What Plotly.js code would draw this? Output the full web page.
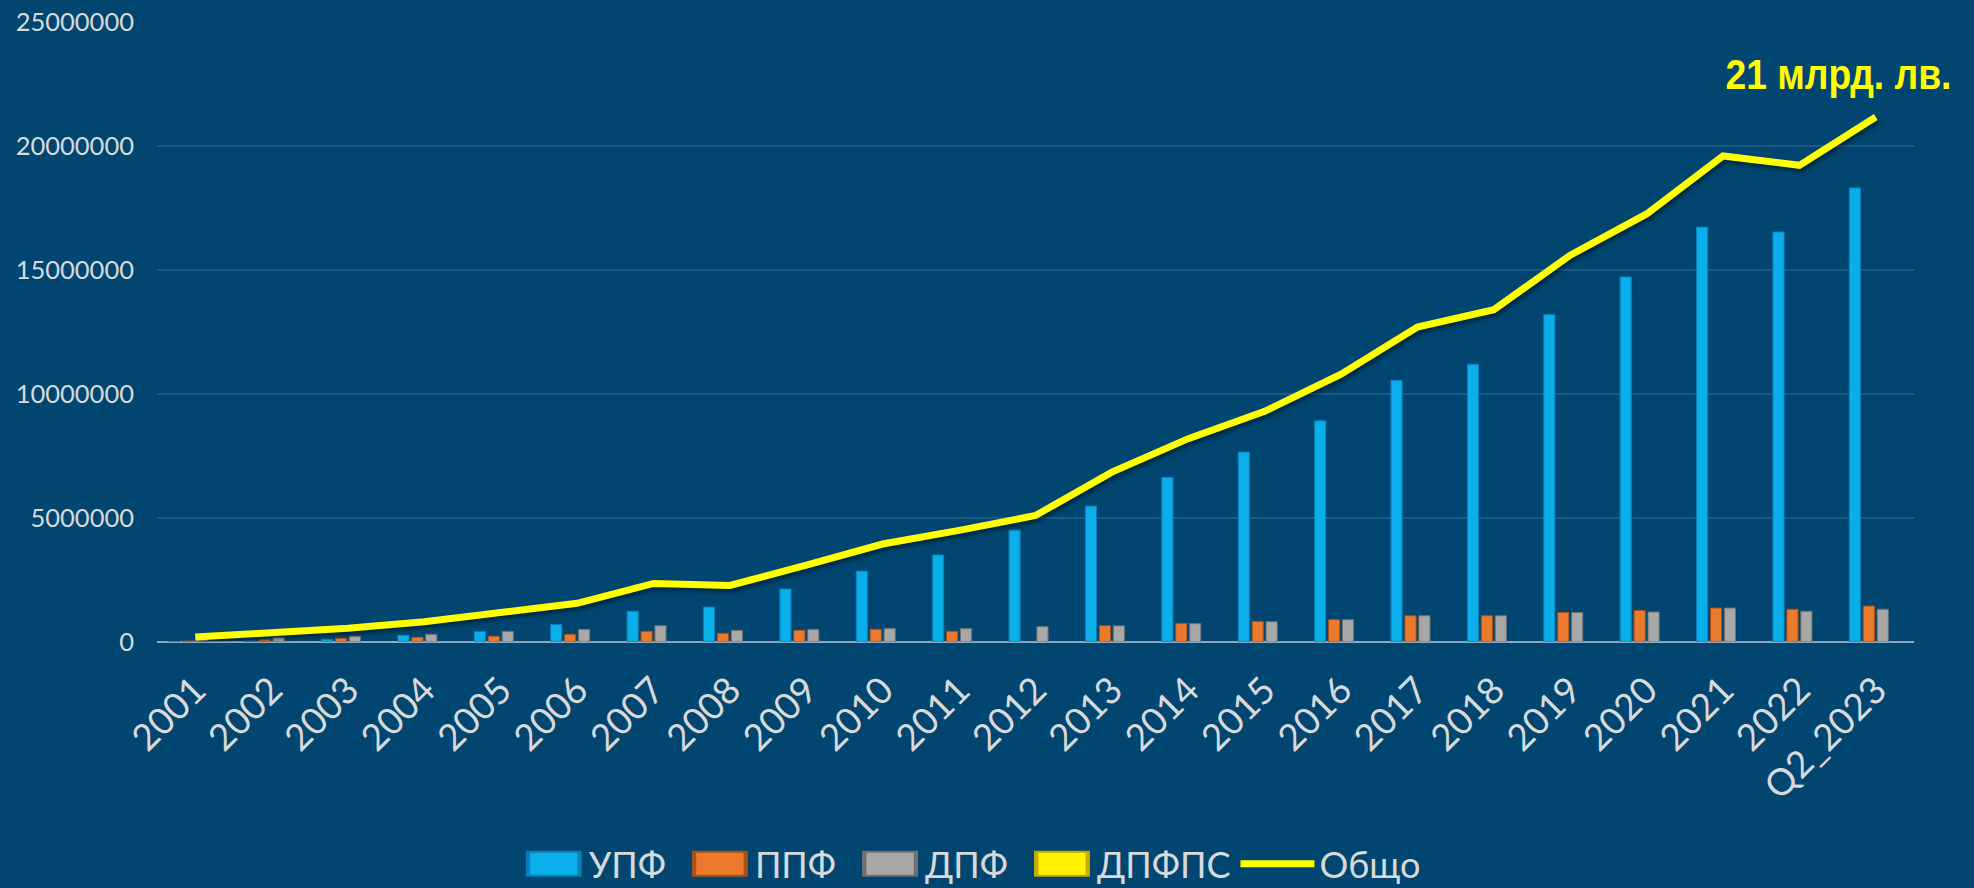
<!DOCTYPE html>
<html>
<head>
<meta charset="utf-8">
<script src="https://cdn.plot.ly/plotly-3.0.1.min.js"></script>
<style>
html,body{margin:0;padding:0;background:#004670;}
#chart{width:1974px;height:888px;}
#chart .scatterlayer .js-line{filter:drop-shadow(2px 3px 2px rgba(0,0,0,0.45));}
</style>
</head>
<body>
<div id="chart"></div>
<script>
const categories = ["2001","2002","2003","2004","2005","2006","2007","2008","2009","2010","2011","2012","2013","2014","2015","2016","2017","2018","2019","2020","2021","2022","Q2_2023"];
const upf    = [10000, 40000, 110000, 270000, 430000, 710000, 1240000, 1410000, 2140000, 2860000, 3510000, 4510000, 5480000, 6640000, 7660000, 8920000, 10550000, 11200000, 13200000, 14720000, 16730000, 16530000, 18310000];
const ppf    = [40000, 90000, 150000, 190000, 230000, 310000, 430000, 350000, 470000, 510000, 430000, null, 660000, 750000, 830000, 900000, 1060000, 1060000, 1190000, 1270000, 1370000, 1320000, 1450000];
const dpf    = [150000, 170000, 230000, 310000, 430000, 510000, 660000, 470000, 510000, 550000, 540000, 620000, 650000, 740000, 820000, 900000, 1060000, 1060000, 1190000, 1210000, 1370000, 1240000, 1320000];
const dpfps  = [0, 0, 0, 0, 0, 0, 0, 1000, 1500, 2000, 2500, 3000, 3500, 4000, 4500, 5000, 5500, 6000, 7000, 8000, 9000, 9500, 10000];
const total  = [200000, 380000, 550000, 820000, 1160000, 1560000, 2360000, 2280000, 3100000, 3950000, 4500000, 5100000, 6850000, 8200000, 9300000, 10800000, 12700000, 13400000, 15600000, 17260000, 19600000, 19220000, 21170000];
const seriesNames = ["УПФ", "ППФ", "ДПФ", "ДПФПС", "Общо"];
const annotationText = "21 млрд. лв.";

const fontFam = "Lato, 'Open Sans', sans-serif";
const textCol = "#D9D9D9";
const legendItemWidth = 74;

const traces = [
  {type:"bar", name:seriesNames[0], x:categories, y:upf,
   marker:{color:"#0AAEEB", line:{color:"#0C7FB8", width:1}}},
  {type:"bar", name:seriesNames[1], x:categories, y:ppf,
   marker:{color:"#EC7A2C", line:{color:"#A9511A", width:1}}},
  {type:"bar", name:seriesNames[2], x:categories, y:dpf,
   marker:{color:"#A8A8A8", line:{color:"#6F6F6F", width:1}}},
  {type:"bar", name:seriesNames[3], x:categories, y:dpfps,
   marker:{color:"#FFF200", line:{color:"#C9A800", width:1}}},
  {type:"scatter", mode:"lines", name:seriesNames[4], x:categories, y:total,
   line:{color:"#FFFF00", width:7}}
];

const layout = {
  width:1974, height:888,
  paper_bgcolor:"#004670", plot_bgcolor:"#004670",
  margin:{l:157, r:60, t:22, b:246, autoexpand:false},
  barmode:"group", bargap:0.27, bargroupgap:0.2,
  font:{family:fontFam, color:textCol},
  showlegend:true,
  legend:{orientation:"h", x:0.46, xanchor:"center", y:-0.358, yanchor:"middle",
          itemwidth:legendItemWidth,
          font:{family:fontFam, size:36, color:textCol}, bgcolor:"rgba(0,0,0,0)", traceorder:"normal"},
  xaxis:{type:"category", tickangle:-45, tickfont:{family:fontFam, size:37, color:textCol}, automargin:false,
         showgrid:false, zeroline:false, showline:false, ticks:"", ticklabelstandoff:18, fixedrange:true},
  yaxis:{range:[0,25000000], dtick:5000000, tickformat:"d", automargin:false,
         tickfont:{family:fontFam, size:25.5, color:textCol},
         showgrid:true, gridcolor:"#1F5A86", gridwidth:2,
         zeroline:true, zerolinecolor:"#8FA9C0", zerolinewidth:2,
         ticks:"", ticklabelstandoff:22, fixedrange:true},
  annotations:[{text:"<b>"+annotationText+"</b>", xref:"paper", yref:"paper",
                x:0.9568, xanchor:"center", y:0.916, yanchor:"middle", showarrow:false,
                font:{family:"'Liberation Sans', Arial, sans-serif", size:42, color:"#FFFF00"}}]
};

Plotly.newPlot("chart", traces, layout, {displayModeBar:false, staticPlot:true}).then(function(gd){
  // condense annotation text to mimic a narrow bold face
  gd.querySelectorAll(".annotation-text").forEach(function(t){
    t.setAttribute("textLength", "226");
    t.setAttribute("lengthAdjust", "spacingAndGlyphs");
  });
  // enlarge legend swatches of the bar series (wide rectangles ending just before the label)
  const cx = legendItemWidth - 25;
  gd.querySelectorAll(".legend .traces").forEach(function(tr, i){
    if (i > 3) return;
    tr.querySelectorAll(".legendpoints path").forEach(function(p){
      if (p.classList.contains("js-line") || p.classList.contains("js-fill")) return;
      p.setAttribute("transform", "translate(" + cx + ",0) scale(4.3,2.0)");
    });
  });
});
</script>
</body>
</html>
